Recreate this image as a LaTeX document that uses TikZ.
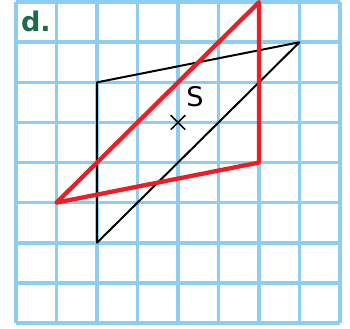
\documentclass[tikz,border=0pt]{standalone}
\usepackage{fontspec}
\setmainfont{DejaVu Sans}
\usepackage{xcolor}
\usetikzlibrary{positioning}
\definecolor{gridblue}{HTML}{8ECDF0}
\definecolor{redline}{HTML}{EE1C25}
\definecolor{labelgreen}{HTML}{1B6B4C}

\begin{document}
\begin{tikzpicture}[x=1cm,y=0.99cm]
	\useasboundingbox (-0.395,-0.15) rectangle (8.247,8.054);

	\foreach \i in {0,...,8}
	\draw[gridblue, line width=2.6pt] (\i,0)--(\i,8);
	\foreach \j in {0,...,8}
	\draw[gridblue, line width=2.6pt] (0,\j)--(8,\j);

	\coordinate (A) at (2,2);
	\coordinate (B) at (2,6);
	\coordinate (C) at (7,7);
	\coordinate (rA) at (6,8);
	\coordinate (rB) at (6,4);
	\coordinate (rC) at (1,3);
	\coordinate (S) at (4,5);

	\draw[black, line width=1.4pt, line join=round] (A)--(B)--(C)--cycle;
	\draw[redline, line width=3pt, line join=round] (rA)--(rB)--(rC)--cycle;

	\draw[black, line width=1.1pt] ([shift={(-0.18,-0.18)}]S)--([shift={(0.18,0.18)}]S);
	\draw[black, line width=1.1pt] ([shift={(-0.18,0.18)}]S)--([shift={(0.18,-0.18)}]S);

	\node (lS) at (4.42,5.64) {\fontsize{19pt}{21pt}\selectfont S};
	\node (lD) at (0.49,7.52) {\fontsize{19pt}{21pt}\selectfont\bfseries\color{labelgreen} d.};
\end{tikzpicture}
\end{document}
